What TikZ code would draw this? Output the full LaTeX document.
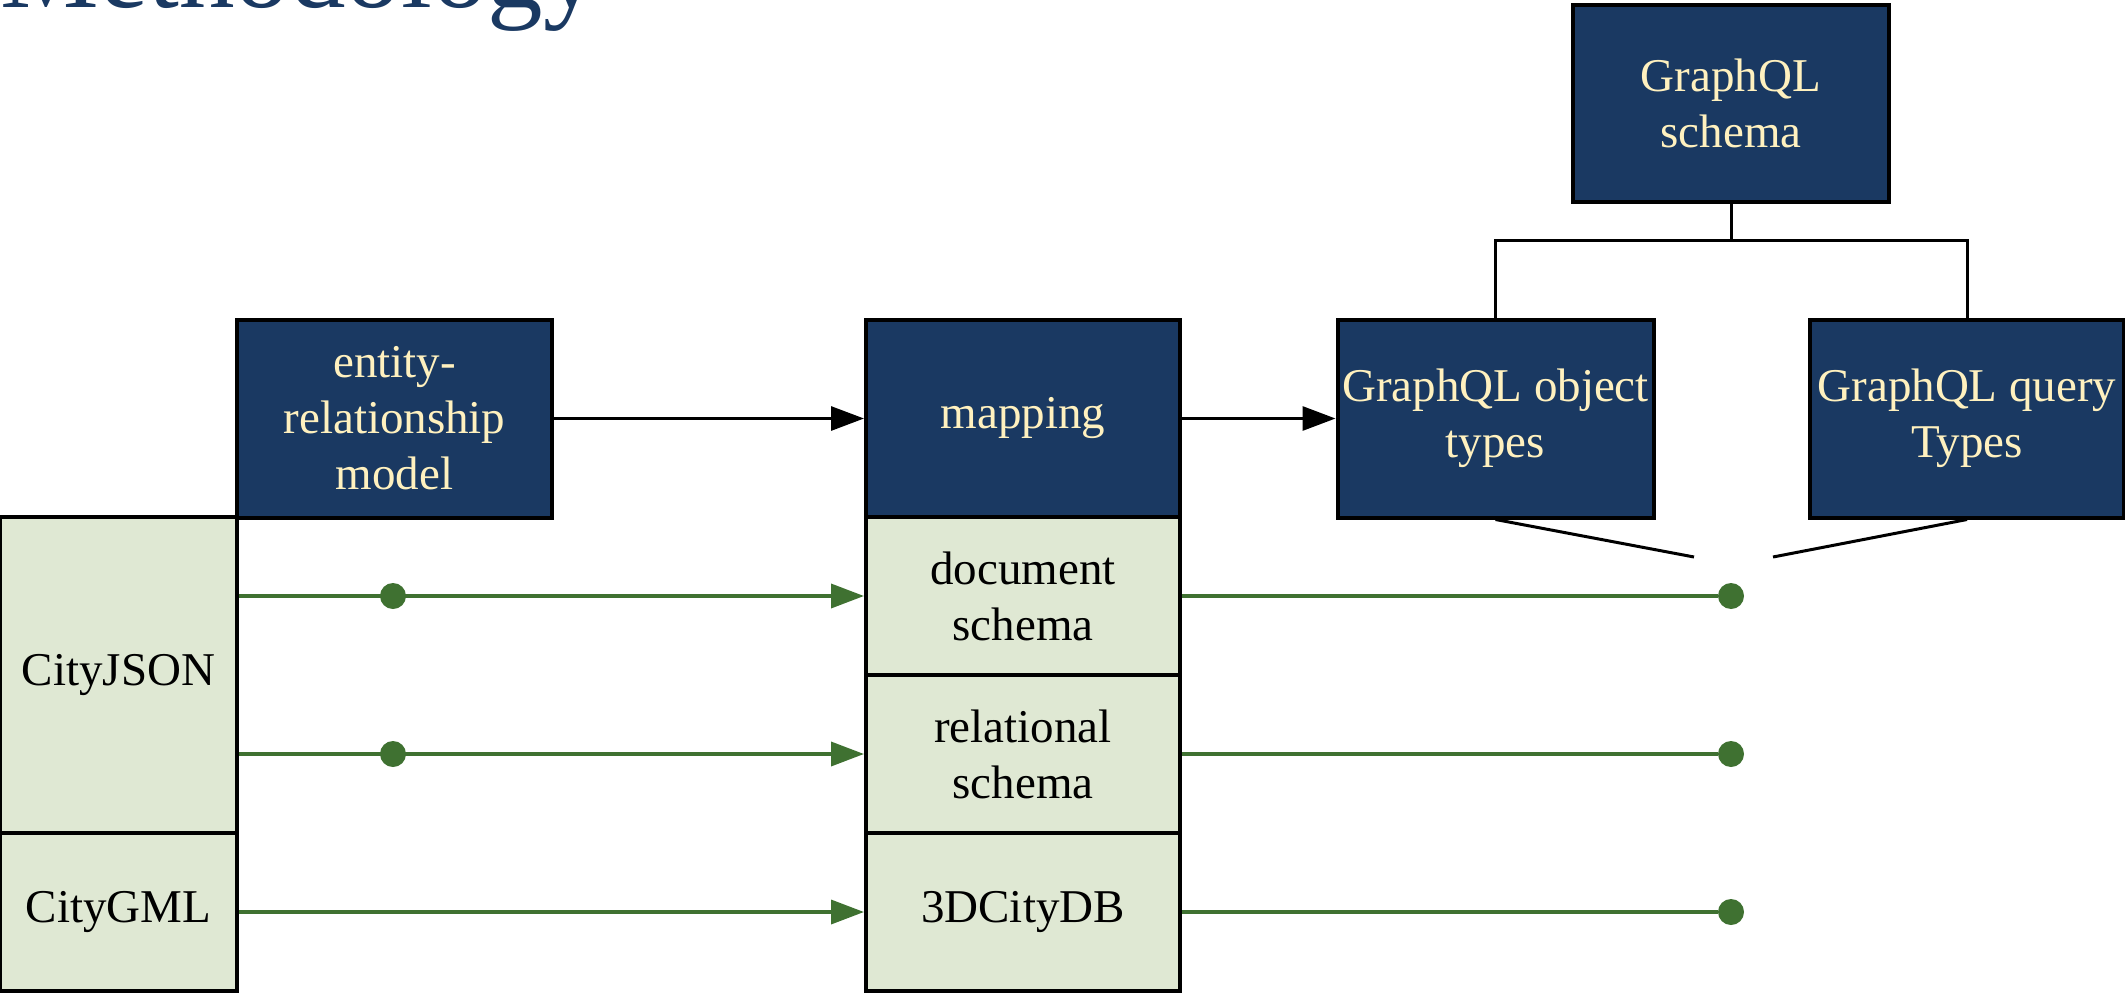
\documentclass[tikz,border=0pt]{standalone}
\usepackage{fontspec}
\setmainfont{Liberation Serif}
\usetikzlibrary{arrows.meta}
\definecolor{navy}{HTML}{1A3962}
\definecolor{cream}{HTML}{FFF1BF}
\definecolor{sage}{HTML}{DFE8D3}
\definecolor{leaf}{HTML}{3F7131}

\begin{document}
\begin{tikzpicture}[x=0.5pt,y=-0.5pt,
  box/.style={draw=black, line width=2pt, rectangle, inner sep=0pt, align=center,
              font=\fontsize{23.5pt}{28pt}\selectfont},
  dbox/.style={box, fill=navy, text=cream},
  gbox/.style={box, fill=sage, text=black},
  link/.style={draw=black, line width=1.5pt},
  flow/.style={link, -{Triangle[length=16.5pt,width=12pt]}},
  gline/.style={draw=leaf, line width=1.8pt},
  gflow/.style={gline, -{Triangle[length=16.5pt,width=12pt]}},
  gdot/.style={circle, fill=leaf, inner sep=0pt, minimum size=13pt},
]
\clip (0,0) rectangle (2125,995);
\useasboundingbox (0,0) rectangle (2125,995);

% heading
\node[anchor=base west, inner sep=0pt, text=navy,
      font=\fontsize{55.5pt}{60pt}\selectfont] (title) at (0,8) {Methodology};

% GraphQL side
\node[dbox, minimum width=158pt, minimum height=98.5pt] (schema) at (1731,103.5) {GraphQL\\schema};
\node[dbox, minimum width=158pt, minimum height=99pt] (obj) at (1495.5,418.5) {GraphQL object\\types};
\node[dbox, minimum width=157pt, minimum height=99pt] (query) at (1967,418.5) {GraphQL query\\Types};

% modelling steps
\node[dbox, minimum width=157.5pt, minimum height=99pt] (er) at (394.5,418.5) {entity-\\relationship\\model};
\node[dbox, minimum width=157pt, minimum height=99pt] (map) at (1023,418.5) {mapping};

% source formats
\node[gbox, minimum width=118.5pt, minimum height=158pt] (cj) at (118.5,675) {CityJSON};
\node[gbox, minimum width=118.5pt, minimum height=79pt] (cg) at (118.5,912) {CityGML};

% storage schemas
\node[gbox, minimum width=157pt, minimum height=79pt] (doc) at (1023,596) {document\\schema};
\node[gbox, minimum width=157pt, minimum height=79pt] (rel) at (1023,754) {relational\\schema};
\node[gbox, minimum width=157pt, minimum height=79pt] (cdb) at (1023,912) {3DCityDB};

% schema tree
\draw[link] (schema.south) -- ++(0,36) -| (obj.north);
\draw[link] (schema.south) -- ++(0,36) -| (query.north);

% main flow
\draw[flow] (er.east) -- (map.west);
\draw[flow] (map.east) -- (obj.west);

% converging links below the GraphQL types
\coordinate (jl) at (1694,557);
\coordinate (jr) at (1773,557);
\draw[link] (obj.south) -- (jl);
\draw[link] (query.south) -- (jr);

% green flows from the formats
\draw[gflow] (cj.east |- doc.west) -- (doc.west);
\draw[gflow] (cj.east |- rel.west) -- (rel.west);
\draw[gflow] (cg.east |- cdb.west) -- (cdb.west);
\node[gdot] (m1) at (393,596) {};
\node[gdot] (m2) at (393,754) {};

% green lines to the end dots
\node[gdot] (e1) at (schema.south |- doc.east) {};
\node[gdot] (e2) at (schema.south |- rel.east) {};
\node[gdot] (e3) at (schema.south |- cdb.east) {};
\draw[gline] (doc.east) -- (e1);
\draw[gline] (rel.east) -- (e2);
\draw[gline] (cdb.east) -- (e3);
\end{tikzpicture}
\end{document}
